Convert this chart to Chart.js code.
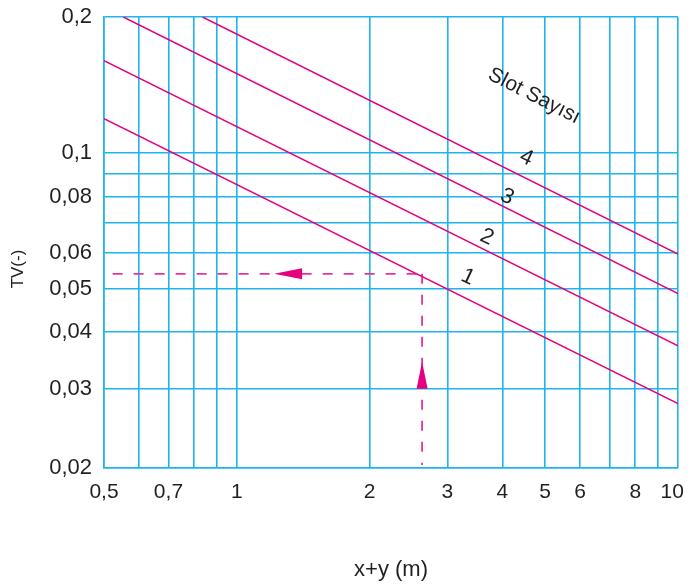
<!DOCTYPE html>
<html>
<head>
<meta charset="utf-8">
<title>TV - x+y</title>
<script src="https://cdn.jsdelivr.net/npm/chart.js@4.4.1/dist/chart.umd.min.js"></script>
<style>
  html, body { margin: 0; padding: 0; background: #fff; }
  #wrap { width: 688px; height: 585px; }
</style>
</head>
<body>
<div id="wrap"><canvas id="chart" width="688" height="585"></canvas></div>
<script>
// eksenler (log-log)
const xGrid = [0.5, 0.6, 0.7, 0.8, 0.9, 1, 2, 3, 4, 5, 6, 7, 8, 9, 10];
const xTickVals = [0.5, 0.7, 1, 2, 3, 4, 5, 6, 8, 10];
// son etiket tuvale sigsin diye sagda bosluk var
const xTickText = ['0,5', '0,7', '1', '2', '3', '4', '5', '6', '8', '10\u00a0\u00a0'];
const yGrid = [0.02, 0.03, 0.04, 0.05, 0.06, 0.07, 0.08, 0.09, 0.1, 0.2];
const yTickVals = [0.02, 0.03, 0.04, 0.05, 0.06, 0.08, 0.1, 0.2];
const yTickText = ['0,02', '0,03', '0,04', '0,05', '0,06', '0,08', '0,1', '0,2'];

// slot sayisi egrileri: [x+y, TV]
const slot1 = [[0.5, 0.119], [10, 0.0278]];
const slot2 = [[0.5, 0.160], [10, 0.0373]];
const slot3 = [[0.553, 0.2], [10, 0.0487]];
const slot4 = [[0.836, 0.2], [10, 0.0596]];
const slotNames = ['1', '2', '3', '4'];
const slotLabelPos = [[3.34, 0.053], [3.69, 0.065], [4.10, 0.0798], [4.53, 0.0974]];
const titlePos = [4.72, 0.1336];

// okuma ornegi
const readX = 2.63, readY = 0.0539;
const guideH = [[0.523, readY], [readX, readY]];
const guideV = [[readX, readY], [readX, 0.0203]];
const arrowLeftTip = [1.215, readY];
const arrowUpTip = [readX, 0.0344];

const CYAN = '#1fb4ea';
const MAGENTA = '#e4007f';
const TEXT = '#231f20';
const FONT = "'Liberation Sans', Arial, Helvetica, sans-serif";

const pts = arr => arr.map(p => ({ x: p[0], y: p[1] }));

function lineSet(data, dashed) {
    return {
        data: pts(data),
        showLine: true,
        borderColor: dashed ? '#e8339a' : MAGENTA,
        borderWidth: dashed ? 1.8 : 1.5,
        borderDash: dashed ? [10, 11] : [],
        pointRadius: 0,
        pointHoverRadius: 0,
        fill: false
    };
}

// etiket tasmasi icin eklenen bosluklari sifirla
function noOverflow(s) {
    s.paddingLeft = 0;
    s.paddingRight = 0;
    s.paddingTop = 0;
    s.paddingBottom = 0;
}

// etiketler, oklar, y ekseni basligi
const annotations = {
    id: 'annotations',
    afterDatasetsDraw(chart) {
        const { ctx, scales: { x, y } } = chart;
        const px = p => [x.getPixelForValue(p[0]), y.getPixelForValue(p[1])];
        ctx.save();
        ctx.fillStyle = MAGENTA;

        // sola ok
        let [tx, ty] = px(arrowLeftTip);
        ctx.beginPath();
        ctx.moveTo(tx, ty);
        ctx.lineTo(tx + 28, ty - 5.5);
        ctx.lineTo(tx + 28, ty + 5.5);
        ctx.closePath();
        ctx.fill();

        // yukari ok
        [tx, ty] = px(arrowUpTip);
        ctx.beginPath();
        ctx.moveTo(tx, ty);
        ctx.lineTo(tx - 5.5, ty + 27);
        ctx.lineTo(tx + 5.5, ty + 27);
        ctx.closePath();
        ctx.fill();

        ctx.fillStyle = TEXT;
        ctx.textAlign = 'center';
        ctx.textBaseline = 'middle';

        ctx.font = `22px ${FONT}`;
        slotNames.forEach((name, i) => {
            const [lx, ly] = px(slotLabelPos[i]);
            ctx.save();
            ctx.translate(lx, ly);
            ctx.rotate(25 * Math.PI / 180);
            ctx.fillText(name, 0, 0);
            ctx.restore();
        });

        const [sx, sy] = px(titlePos);
        ctx.save();
        ctx.translate(sx, sy);
        ctx.rotate(27 * Math.PI / 180);
        ctx.font = `21px ${FONT}`;
        ctx.fillText('Slot Sayısı', 0, 0);
        ctx.restore();

        ctx.save();
        ctx.translate(18, 269);
        ctx.rotate(-Math.PI / 2);
        ctx.font = `17px ${FONT}`;
        ctx.fillText('TV(-)', 0, 0);
        ctx.restore();

        ctx.restore();
    }
};

new Chart(document.getElementById('chart'), {
    type: 'scatter',
    data: {
        datasets: [
            lineSet(slot1), lineSet(slot2), lineSet(slot3), lineSet(slot4),
            lineSet(guideH, true), lineSet(guideV, true)
        ]
    },
    options: {
        responsive: false,
        animation: false,
        events: [],
        layout: { padding: { top: 17, right: 10, left: 0, bottom: 0 } },
        plugins: { legend: { display: false }, tooltip: { enabled: false } },
        scales: {
            x: {
                type: 'logarithmic',
                min: 0.5,
                max: 10,
                afterBuildTicks: s => { s.ticks = xGrid.map(v => ({ value: v })); },
                afterFit: s => { s.height = 117; noOverflow(s); },
                grid: { color: CYAN, lineWidth: 1.6, drawTicks: false },
                border: { color: CYAN, width: 1.6 },
                ticks: {
                    autoSkip: false, maxRotation: 0, minRotation: 0, padding: 12,
                    color: TEXT, font: { family: FONT, size: 21 },
                    callback: v => { const i = xTickVals.indexOf(v); return i < 0 ? '' : xTickText[i]; }
                },
                title: {
                    display: true, text: 'x+y (m)', color: TEXT,
                    font: { family: FONT, size: 22 }, padding: { top: 0, bottom: 2 }
                }
            },
            y: {
                type: 'logarithmic',
                min: 0.02,
                max: 0.2,
                afterBuildTicks: s => { s.ticks = yGrid.map(v => ({ value: v })); },
                afterFit: s => { s.width = 104; noOverflow(s); },
                grid: { color: CYAN, lineWidth: 1.6, drawTicks: false },
                border: { color: CYAN, width: 1.6 },
                ticks: {
                    autoSkip: false, padding: 12,
                    color: TEXT, font: { family: FONT, size: 22 },
                    callback: v => { const i = yTickVals.indexOf(v); return i < 0 ? '' : yTickText[i]; }
                }
            }
        }
    },
    plugins: [annotations]
});
</script>
</body>
</html>
